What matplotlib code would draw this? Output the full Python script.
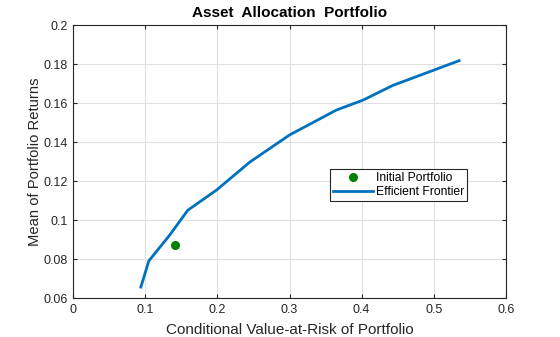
import matplotlib
matplotlib.use("Agg")
import matplotlib.pyplot as plt

# Frontera eficiente (CVaR vs retorno medio) y cartera inicial
cvar_frontera = [0.094, 0.105, 0.134, 0.159, 0.199, 0.245, 0.300, 0.365, 0.402, 0.443, 0.535]
media_frontera = [0.0656, 0.079, 0.0923, 0.105, 0.1154, 0.1297, 0.1436, 0.1564, 0.1615, 0.169, 0.1817]
cvar_inicial = [0.141]
media_inicial = [0.0873]

xticks = [0, 0.1, 0.2, 0.3, 0.4, 0.5, 0.6]
yticks = [0.06, 0.08, 0.1, 0.12, 0.14, 0.16, 0.18, 0.2]
ytick_labels = ["0.06", "0.08", "0.1", "0.12", "0.14", "0.16", "0.18", "0.2"]

plt.rcParams["font.family"] = ["Liberation Sans", "DejaVu Sans"]
gris = "#262626"

fig = plt.figure(figsize=(5.6, 3.37), dpi=100)
ax = fig.add_axes([0.1304, 0.1157, 0.7732, 0.8101])

ax.plot(cvar_inicial, media_inicial, "o", color="#008000", markersize=5.5, label="Initial Portfolio")
ax.plot(cvar_frontera, media_frontera, "-", color="#0072BD", linewidth=2, label="Efficient Frontier")

ax.set_xlim(0, 0.6)
ax.set_ylim(0.06, 0.2)
ax.set_xticks(xticks)
ax.set_xticklabels([("%g" % t) for t in xticks])
ax.set_yticks(yticks)
ax.set_yticklabels(ytick_labels)
ax.grid(True, color="#e0e0e0", linewidth=0.8)
ax.set_axisbelow(True)
ax.tick_params(direction="in", length=3, labelsize=9, colors=gris, top=True, right=True,
               labeltop=False, labelright=False, pad=4)
for s in ax.spines.values():
    s.set_color(gris)
    s.set_linewidth(0.8)

ax.set_xlabel("Conditional Value-at-Risk of Portfolio", fontsize=11, color=gris, labelpad=5)
ax.set_ylabel("Mean of Portfolio Returns", fontsize=10.6, color=gris, labelpad=1)
ax.set_title("Asset  Allocation  Portfolio", fontsize=11, fontweight="bold", color="black", pad=6)

leg = ax.legend(loc="center", bbox_to_anchor=(0.752, 0.414), fontsize=8.7, frameon=True,
                fancybox=False, edgecolor=gris, framealpha=1, borderpad=0.25,
                handlelength=3.3, handletextpad=0.25, labelspacing=0.2, borderaxespad=0)
leg.get_frame().set_linewidth(0.8)

fig.savefig("out.png", dpi=100)
